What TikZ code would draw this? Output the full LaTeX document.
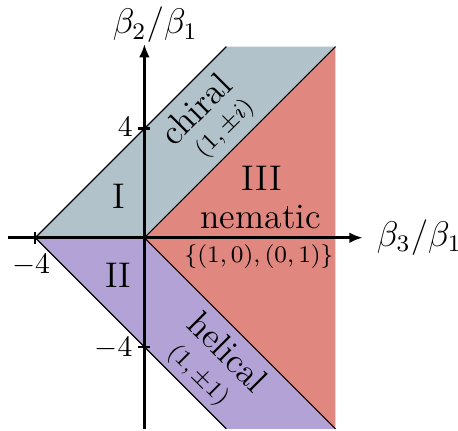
\documentclass[tikz,border=0pt]{standalone}
\usetikzlibrary{arrows.meta}
\definecolor{chiralc}{RGB}{177,194,202}
\definecolor{nemc}{RGB}{224,135,128}
\definecolor{helc}{RGB}{179,162,214}
\begin{document}
\begin{tikzpicture}[x=0.323cm,y=0.323cm,
  bnd/.style={black,line width=0.4pt},
  axisline/.style={line width=1pt,-{Latex[length=4.5pt,width=3.6pt]}},
  tickline/.style={line width=0.8pt},
  big/.style={font=\large,inner sep=0pt},
  small/.style={font=\footnotesize,inner sep=0pt},
  ticklab/.style={font=\normalsize,inner sep=0pt}]
\useasboundingbox (-5.29,-7.08) rectangle (11.49,8.71);
\coordinate (O) at (0,0);
\coordinate (L) at (-4,0);
\coordinate (TL) at (3,7);
\coordinate (TR) at (7,7);
\coordinate (BR) at (7,-7);
\coordinate (BL) at (3,-7);
\fill[chiralc] (L) -- (TL) -- (TR) -- (O) -- cycle;
\fill[nemc] (O) -- (TR) -- (BR) -- cycle;
\fill[helc] (L) -- (O) -- (BR) -- (BL) -- cycle;
\draw[bnd] (L) -- (TL);
\draw[bnd] (O) -- (TR);
\draw[bnd] (O) -- (BR);
\draw[bnd] (L) -- (BL);
% axes
\coordinate (xs) at (-5,0);
\coordinate (xe) at (8,0);
\coordinate (ys) at (0,-7);
\coordinate (ye) at (0,7.1);
\draw[axisline] (xs) -- (xe);
\draw[axisline] (ys) -- (ye);
% ticks
\coordinate (t1a) at (-0.22,4); \coordinate (t1b) at (0.22,4);
\coordinate (t2a) at (-0.22,-4); \coordinate (t2b) at (0.22,-4);
\coordinate (t3a) at (-4,-0.22); \coordinate (t3b) at (-4,0.22);
\draw[tickline] (t1a) -- (t1b);
\draw[tickline] (t2a) -- (t2b);
\draw[tickline] (t3a) -- (t3b);
\node[ticklab] (l4) at (-0.7,4.05) {$4$};
\node[ticklab] (lm4y) at (-1.13,-4.05) {$-4$};
\node[ticklab] (lm4x) at (-4.15,-1.0) {$-4$};
% axis labels
\node[big] (ylab) at (0.4,7.8) {$\beta_2/\beta_1$};
\node[big,anchor=west] (xlab) at (8.5,0) {$\beta_3/\beta_1$};
% region labels
\node[big] (rI) at (-0.93,1.5) {I};
\node[big] (rII) at (-0.95,-1.37) {II};
\node[big] (rIII) at (4.3,2.18) {III};
\node[big] (nem) at (4.26,0.77) {nematic};
\node[small] (nemv) at (4.2,-0.7) {$\{(1,0),(0,1)\}$};
\node[big,rotate=45] (chi) at (1.88,4.73) {chiral};
\node[small,rotate=45] (chiv) at (2.95,3.99) {$(1,\pm i)$};
\node[big,rotate=-45] (hel) at (3.07,-4.18) {helical};
\node[small,rotate=-45] (helv) at (1.96,-5.05) {$(1,\pm 1)$};
\end{tikzpicture}
\end{document}
